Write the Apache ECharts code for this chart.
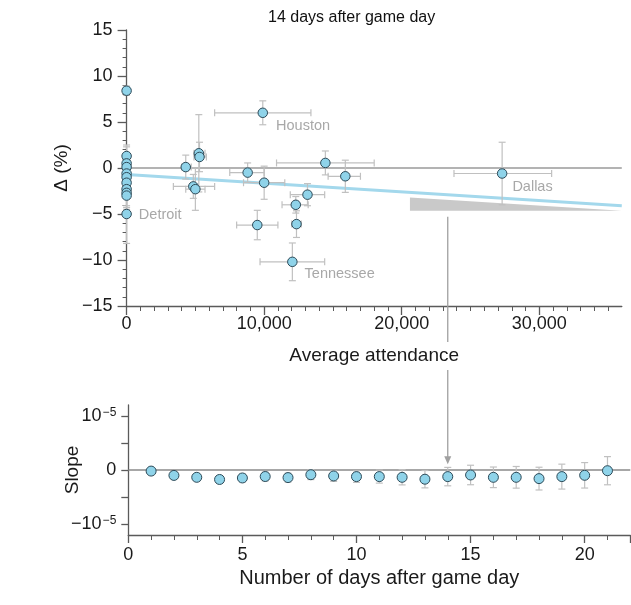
<!DOCTYPE html>
<html><head><meta charset="utf-8">
<script src="https://cdn.jsdelivr.net/npm/echarts@6/dist/echarts.min.js"></script>
<style>html,body{margin:0;padding:0;background:#fff}#c{width:631px;height:605px}</style>
</head><body><div id="c"></div>
<script>
// ---- Top panel: 14 days after game day ----
const attendance     = [0, 0, 0, 0, 0, 0, 0, 0, 0, 0, 0, 4300, 5250, 5300, 4850, 5000, 8800, 9900, 10000, 9500, 12300, 12350, 13150, 12050, 14450, 15900, 27300];
const delta          = [8.4, 1.3, 0.5, 0.1, -0.6, -1.0, -1.6, -2.3, -2.7, -3.0, -5.0, 0.1, 1.6, 1.2, -2.0, -2.3, -0.5, 6.0, -1.6, -6.2, -4.0, -6.1, -2.9, -10.2, 0.55, -0.9, -0.6];
const attendanceLow  = [0, 0, 0, 0, 0, 0, 0, 0, 0, 0, 0, 4000, 4900, 4900, 3400, 4300, 7500, 6400, 8500, 8000, 11300, 12000, 11900, 9700, 10900, 14650, 23800];
const attendanceHigh = [0, 0, 0, 0, 0, 0, 0, 0, 0, 0, 0, 4700, 5700, 5800, 6400, 5700, 10000, 13400, 11500, 11000, 13200, 12700, 14400, 14400, 18000, 17000, 30900];
const deltaErr       = [0.5, 1.2, 1.8, 1.0, 2.0, 1.5, 2.5, 2.0, 1.8, 2.3, 3.2, 1.3, 4.2, 1.6, 1.3, 2.3, 1.05, 1.3, 1.8, 1.6, 0.9, 1.45, 1.2, 2.05, 1.3, 1.75, 3.4];
const teamLabels     = ['', '', '', '', '', '', '', '', '', '', 'Detroit', '', '', '', '', '', '', 'Houston', '', '', '', '', '', 'Tennessee', '', '', 'Dallas'];
const regressionLine = [[0, -0.7], [36000, -4.1]];
const slopeTriangle  = [[20600, -3.2], [20600, -4.65], [36000, -4.65]];
const topXTicks = [0, 10000, 20000, 30000];
const topYTicks = [-15, -10, -5, 0, 5, 10, 15];

// ---- Bottom panel: slope vs number of days ----
const days     = [1, 2, 3, 4, 5, 6, 7, 8, 9, 10, 11, 12, 13, 14, 15, 16, 17, 18, 19, 20, 21];
const slopes   = [-0.02e-5, -0.10e-5, -0.135e-5, -0.175e-5, -0.147e-5, -0.12e-5, -0.14e-5, -0.087e-5, -0.11e-5, -0.122e-5, -0.122e-5, -0.135e-5, -0.17e-5, -0.122e-5, -0.092e-5, -0.135e-5, -0.135e-5, -0.159e-5, -0.122e-5, -0.098e-5, -0.013e-5];
const slopeErr = [0.05e-5, 0.06e-5, 0.06e-5, 0.07e-5, 0.07e-5, 0.08e-5, 0.08e-5, 0.09e-5, 0.10e-5, 0.107e-5, 0.12e-5, 0.14e-5, 0.16e-5, 0.17e-5, 0.18e-5, 0.19e-5, 0.20e-5, 0.21e-5, 0.23e-5, 0.235e-5, 0.26e-5];
const bottomYTicks = [-1e-5, -0.5e-5, 0, 0.5e-5, 1e-5];
const bottomYLabels = [-1e-5, 0, 1e-5];
const arrowDay = 14;

const FONT = 'Liberation Sans, Arial, Helvetica, sans-serif';
const ERR = '#c0c0c0';
const labelStyle = {
  Detroit:   {position: 'right', offset: [3, 1]},
  Houston:   {position: 'right', offset: [4, 13]},
  Tennessee: {position: 'right', offset: [3, 12]},
  Dallas:    {position: 'right', offset: [1, 13]}
};

function errRender(params, api) {
  const x = api.value(0), y = api.value(1), xl = api.value(2), xh = api.value(3), ye = api.value(4);
  const c = api.coord([x, y]);
  const st = {stroke: ERR, lineWidth: 1.2, fill: null};
  const cap = 3.5;
  const ch = [];
  if (ye > 0) {
    const t = api.coord([x, y + ye]), b = api.coord([x, y - ye]);
    ch.push({type: 'line', shape: {x1: c[0], y1: t[1], x2: c[0], y2: b[1]}, style: st});
    ch.push({type: 'line', shape: {x1: c[0] - cap, y1: t[1], x2: c[0] + cap, y2: t[1]}, style: st});
    ch.push({type: 'line', shape: {x1: c[0] - cap, y1: b[1], x2: c[0] + cap, y2: b[1]}, style: st});
  }
  if (xh > xl) {
    const l = api.coord([xl, y]), r = api.coord([xh, y]);
    ch.push({type: 'line', shape: {x1: l[0], y1: c[1], x2: r[0], y2: c[1]}, style: st});
    ch.push({type: 'line', shape: {x1: l[0], y1: c[1] - cap, x2: l[0], y2: c[1] + cap}, style: st});
    ch.push({type: 'line', shape: {x1: r[0], y1: c[1] - cap, x2: r[0], y2: c[1] + cap}, style: st});
  }
  return {type: 'group', children: ch};
}

const topErrData = attendance.map((x, i) => [x, delta[i], attendanceLow[i], attendanceHigh[i], deltaErr[i]]);
const topPoints = attendance.map((x, i) => {
  const item = {value: [x, delta[i]]};
  if (teamLabels[i]) {
    item.label = Object.assign({show: true, formatter: teamLabels[i], color: '#a8a8a8', fontSize: 14.5, fontFamily: FONT, distance: 4}, labelStyle[teamLabels[i]]);
  }
  return item;
});
const bottomErrData = days.map((d, i) => [d, slopes[i], d, d, slopeErr[i]]);
const bottomPoints = days.map((d, i) => [d, slopes[i]]);

const axisLineStyle = {color: '#5a5a5a', width: 1.3};
const tickLabel = {color: '#1a1a1a', fontSize: 18, fontFamily: FONT};
const nameStyle = {color: '#1a1a1a', fontSize: 19, fontFamily: FONT};

function supLabel(v) {
  if (v === 0) return '0';
  return (v < 0 ? '\u2212' : '') + '10{s|\u22125}';
}

const chart = echarts.init(document.getElementById('c'), null, {renderer: 'canvas'});
chart.setOption({
  animation: false,
  backgroundColor: '#fff',
  textStyle: {fontFamily: FONT},
  title: {text: '14 days after game day', left: 268, top: 10, padding: 0,
    textStyle: {fontSize: 16, fontWeight: 'normal', color: '#111', fontFamily: FONT}},
  grid: [
    {left: 126.6, top: 30, width: 495.2, height: 276},
    {left: 128.3, top: 405, width: 502, height: 130}
  ],
  xAxis: [
    {type: 'value', gridIndex: 0, min: 0, max: 36000, interval: 10000,
      name: 'Average attendance', nameLocation: 'middle', nameGap: 40, nameMoveOverlap: false,
      nameTextStyle: nameStyle,
      axisLine: {show: true, onZero: false, lineStyle: axisLineStyle},
      axisTick: {show: true, length: 9, lineStyle: axisLineStyle, customValues: topXTicks},
      minorTick: {show: true, splitNumber: 10, length: 5, lineStyle: {color: '#5a5a5a', width: 1}},
      axisLabel: Object.assign({margin: 9, customValues: topXTicks,
        formatter: v => v === 0 ? '0' : v.toLocaleString('en-US')}, tickLabel),
      splitLine: {show: false}},
    {type: 'value', gridIndex: 1, min: 0, max: 22, interval: 5,
      name: 'Number of days after game day', nameLocation: 'middle', nameGap: 33, nameMoveOverlap: false,
      nameTextStyle: Object.assign({}, nameStyle, {fontSize: 20}),
      axisLine: {show: true, onZero: false, lineStyle: axisLineStyle},
      axisTick: {show: true, length: 8, lineStyle: axisLineStyle},
      minorTick: {show: true, splitNumber: 5, length: 5, lineStyle: {color: '#5a5a5a', width: 1}},
      axisLabel: Object.assign({margin: 11, showMaxLabel: false}, tickLabel),
      splitLine: {show: false}}
  ],
  yAxis: [
    {type: 'value', gridIndex: 0, min: -15, max: 15, interval: 5,
      name: '\u0394 (%)', nameLocation: 'middle', nameGap: 55, nameRotate: 90, nameMoveOverlap: false,
      nameTextStyle: nameStyle,
      axisLine: {show: true, onZero: false, lineStyle: axisLineStyle},
      axisTick: {show: true, length: 9, lineStyle: axisLineStyle},
      minorTick: {show: true, splitNumber: 5, length: 4, lineStyle: {color: '#5a5a5a', width: 1}},
      axisLabel: Object.assign({margin: 14, formatter: v => (v < 0 ? '\u2212' + (-v) : '' + v)}, tickLabel),
      splitLine: {show: false}},
    {type: 'value', gridIndex: 1, min: -1.2e-5, max: 1.2e-5,
      name: 'Slope', nameLocation: 'middle', nameGap: 46, nameRotate: 90, nameMoveOverlap: false,
      nameTextStyle: nameStyle,
      axisLine: {show: true, onZero: false, lineStyle: axisLineStyle},
      axisTick: {show: true, length: 7, lineStyle: axisLineStyle, customValues: bottomYTicks},
      axisLabel: Object.assign({margin: 12, customValues: bottomYLabels, formatter: supLabel,
        rich: {s: {fontSize: 12, verticalAlign: 'top', color: '#1a1a1a', fontFamily: FONT, padding: [0, 0, 0, 1]}}}, tickLabel),
      splitLine: {show: false}}
  ],
  series: [
    {type: 'line', xAxisIndex: 0, yAxisIndex: 0, data: [[0, 0], [36000, 0]], symbol: 'none', silent: true,
      lineStyle: {color: '#9a9a9a', width: 1.5}, z: 1},
    {type: 'custom', xAxisIndex: 0, yAxisIndex: 0, data: [0], silent: true, z: 2,
      renderItem: (params, api) => ({type: 'polygon', shape: {points: slopeTriangle.map(p => api.coord(p))},
        style: {fill: '#c9c9c9'}})},
    {type: 'line', xAxisIndex: 0, yAxisIndex: 0, data: regressionLine, symbol: 'none', silent: true,
      lineStyle: {color: '#a3d8ec', width: 3}, z: 3},
    {type: 'custom', xAxisIndex: 0, yAxisIndex: 0, data: topErrData, renderItem: errRender,
      encode: {x: 0, y: 1}, silent: true, z: 4, clip: false},
    {type: 'scatter', xAxisIndex: 0, yAxisIndex: 0, data: topPoints, symbolSize: 9.5, z: 5,
      itemStyle: {color: '#8fd3e9', borderColor: '#2d4a58', borderWidth: 1, opacity: 1}},

    {type: 'line', xAxisIndex: 1, yAxisIndex: 1, data: [[0, 0], [22, 0]], symbol: 'none', silent: true,
      lineStyle: {color: '#8a8a8a', width: 1.5}, z: 1},
    {type: 'custom', xAxisIndex: 1, yAxisIndex: 1, data: bottomErrData, renderItem: errRender,
      encode: {x: 0, y: 1}, silent: true, z: 4, clip: false},
    {type: 'scatter', xAxisIndex: 1, yAxisIndex: 1, data: bottomPoints, symbolSize: 10, z: 5,
      itemStyle: {color: '#8fd3e9', borderColor: '#2d4a58', borderWidth: 1, opacity: 1}}
  ]
});

// annotation arrow from top panel to the day-14 point below
const ax = chart.convertToPixel({xAxisIndex: 1}, arrowDay);
const yStart = chart.convertToPixel({yAxisIndex: 0}, -5.3);
const topAxisY = chart.convertToPixel({yAxisIndex: 0}, -15);
const tipY = chart.convertToPixel({yAxisIndex: 1}, slopes[arrowDay - 1] + slopeErr[arrowDay - 1] + 0.06e-5);
chart.setOption({
  graphic: [
    {type: 'line', shape: {x1: ax, y1: yStart, x2: ax, y2: topAxisY + 36}, style: {stroke: '#a0a0a0', lineWidth: 1.3}, z: 10},
    {type: 'line', shape: {x1: ax, y1: topAxisY + 64, x2: ax, y2: tipY - 6}, style: {stroke: '#a0a0a0', lineWidth: 1.3}, z: 10},
    {type: 'polygon', shape: {points: [[ax - 3.5, tipY - 8], [ax + 3.5, tipY - 8], [ax, tipY]]}, style: {fill: '#a0a0a0'}, z: 10}
  ]
});
</script>
</body></html>
